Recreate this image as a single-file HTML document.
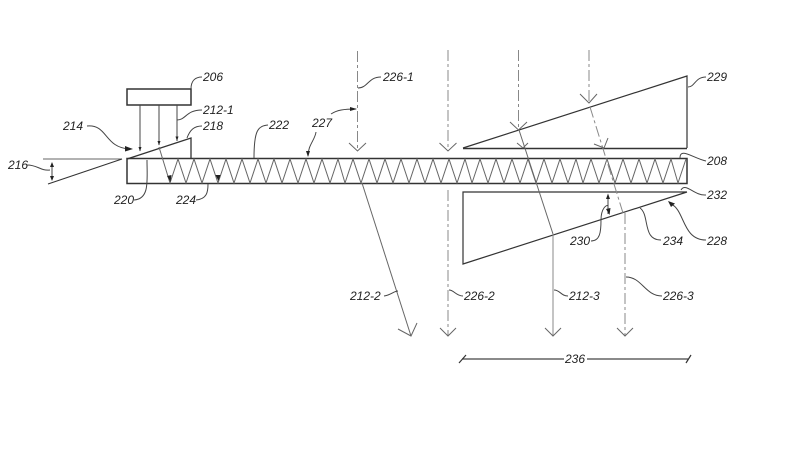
<!DOCTYPE html>
<html>
<head>
<meta charset="utf-8">
<style>
html,body{margin:0;padding:0;background:#fff}
svg{display:block;filter:blur(.35px)}
text{font-family:"Liberation Sans",sans-serif;font-style:italic;font-size:12px;fill:#222;dominant-baseline:central}
.t{fill:none;stroke:#333;stroke-width:1.5}
.m{fill:none;stroke:#444;stroke-width:1}
.g{fill:none;stroke:#666;stroke-width:1}
.d{fill:none;stroke:#888;stroke-width:1;stroke-dasharray:11 3 3 3}
.k{fill:#222;stroke:none}
</style>
</head>
<body>
<svg width="801" height="456" viewBox="0 0 801 456" xmlns="http://www.w3.org/2000/svg">
<!-- source -->
<rect class="t" x="127" y="89" width="64" height="16"/>
<path class="m" d="M140 105V151M159 105V145M177 105V141"/>
<path class="k" d="M138.500 147L141.500 147L140 151.500ZM157.500 141L160.500 141L159 145.500ZM175.500 136.500L178.500 136.500L177 141Z"/>
<!-- in-coupling wedge -->
<path class="t" style="stroke-width:1.300" d="M127 159L191 138V159"/>
<!-- waveguide -->
<rect class="t" x="127" y="158.500" width="560" height="25"/>
<!-- zigzag -->
<path class="g" d="M159 147L170 183L178 159L186 183L194 159L202 183L210 159L218 183L226 159L234 183L242 159L250 183L258 159L266 183L274 159L282 183L290 159L298 183L306 159L314 183L322 159L330 183L338 159L345 183L353 159L361 183L369 159L377 183L385 159L393 183L401 159L409 183L417 159L425 183L433 159L441 183L449 159L457 183L465 159L472 183L480 159L488 183L496 159L504 183L512 159L520 183L528 159L536 183L544 159L552 183L560 159L568 183L576 159L583 183L591 159L599 183L607 159L615 183L623 159L631 183L639 159L647 183L655 159L663 183L671 159L678 183L686 159"/>
<path class="k" d="M167 176L170.500 182L171.500 175ZM215.500 175L218.500 181L220.500 175Z"/>
<!-- angle 216 -->
<path class="g" d="M43 159H122"/>
<path class="t" style="stroke-width:1.100" d="M48 184L122 159"/>
<path class="m" d="M52 163V180"/>
<path class="k" d="M50 167L52 162L54 167ZM50 176L52 181L54 176Z"/>
<!-- upper wedge -->
<path class="t" style="stroke-width:1.200" d="M463 148L687 76V148"/>
<path class="t" d="M463 148.500H687"/>
<!-- lower wedge -->
<path class="t" style="stroke-width:1.200" d="M687 192L463 264V192H687"/>
<!-- dashed incident rays -->
<path class="d" d="M357.500 51V151"/>
<path class="g" d="M349 143L357.500 151L366 143"/>
<path class="d" d="M448 50V151"/>
<path class="g" d="M439.500 143L448 151L456.500 143"/>
<path class="d" d="M448 190V336"/>
<path class="g" d="M440 328L448 336L456 328"/>
<path class="d" d="M518.500 50V130"/>
<path class="g" d="M510 122L518.500 130L527 122"/>
<path class="d" d="M589 50V103"/>
<path class="g" d="M580 94L589 103L597 94"/>
<!-- refracted rays -->
<path class="g" d="M519 130L553 234"/>
<path class="m" style="stroke:#888" d="M553 234V336"/>
<path class="g" d="M545 328L553 336L561 328"/>
<path class="g" d="M517 143L523 148L528 143"/>
<path class="d" d="M590 107L623 213"/>
<path class="d" d="M625 213V336"/>
<path class="g" d="M617 328L625 336L633 328"/>
<path class="g" d="M594 144L604 148L608 138"/>
<!-- out-coupled 212-2 -->
<path class="g" d="M362 183L411 336"/>
<path class="g" d="M398 329L411 336L417 323"/>
<!-- angle 230 -->
<path class="m" d="M608 195V214"/>
<path class="k" d="M606 199L608 193.500L610 199ZM606 209L609.500 215L610.500 208Z"/>
<!-- dimension 236 -->
<path class="m" style="stroke-width:1.200" d="M462 359H564M587 359H688"/>
<path class="t" style="stroke-width:1.200" d="M459 363L466 355M686 363L691 355"/>
<!-- leaders -->
<path class="m" d="M191 89C191 80 196 77 202 77"/>
<path class="m" d="M177 120C186 120 186 110 202 110"/>
<path class="m" d="M187 138C190 130 194 126 202 126"/>
<path class="m" d="M254 158C254 130 258 126 268 125"/>
<path class="m" d="M87 126C108 124 104 148 130 149"/>
<path class="k" d="M125 146L133 149L125 151.500Z"/>
<path class="m" d="M27 165C38 165 40 171 50 170"/>
<path class="m" d="M147 160C147 180 150 199 134 200"/>
<path class="m" d="M208 184C208 192 207 199 196 200"/>
<path class="m" d="M308 156C308 145 315 140 316 132"/>
<path class="k" d="M306 151L310 151L308 157Z"/>
<path class="m" d="M331 114C337 110 344 109 356 109"/>
<path class="k" d="M350 107L357 109L350 111Z"/>
<path class="m" d="M358 88C368 88 368 77 381 77"/>
<path class="m" d="M688 87C695 87 695 77 706 77"/>
<path class="m" d="M680 158C680 147 693 158 706 161"/>
<path class="m" d="M681 190C686 182 694 196 706 195"/>
<path class="m" d="M591 241C600 241 601 232 601 220C601 208 607 204 608 206"/>
<path class="m" d="M640 208C650 215 642 240 661 240"/>
<path class="m" d="M671 204C685 210 682 240 706 240"/>
<path class="k" d="M668 201L675 203.500L671 207Z"/>
<path class="m" d="M398 291C394 291 391 295 384 296"/>
<path class="m" d="M449 290C454 290 456 296 463 296"/>
<path class="m" d="M554 290C560 290 561 296 568 296"/>
<path class="m" d="M626 277C642 277 645 296 662 296"/>
<!-- labels -->
<text x="203" y="77">206</text>
<text x="203" y="110">212-1</text>
<text x="203" y="126">218</text>
<text x="269" y="125">222</text>
<text x="63" y="126">214</text>
<text x="8" y="165">216</text>
<text x="114" y="200">220</text>
<text x="176" y="200">224</text>
<text x="312" y="123">227</text>
<text x="383" y="77">226-1</text>
<text x="707" y="77">229</text>
<text x="707" y="161">208</text>
<text x="707" y="195">232</text>
<text x="570" y="241">230</text>
<text x="663" y="241">234</text>
<text x="707" y="241">228</text>
<text x="350" y="296">212-2</text>
<text x="464" y="296">226-2</text>
<text x="569" y="296">212-3</text>
<text x="663" y="296">226-3</text>
<text x="565" y="359">236</text>
</svg>
</body>
</html>
